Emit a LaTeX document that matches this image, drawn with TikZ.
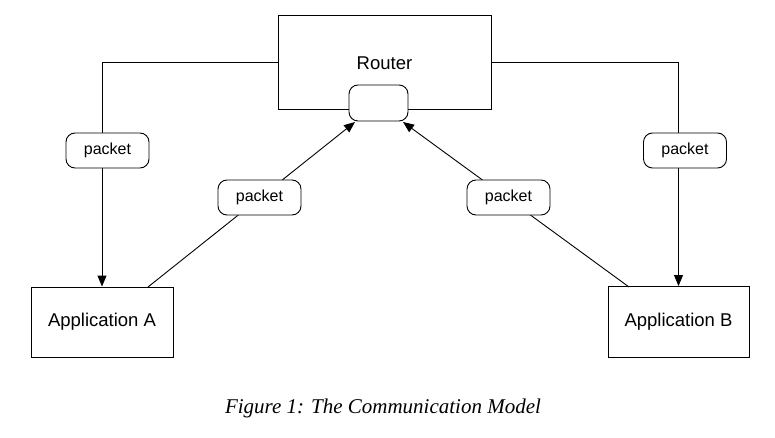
\documentclass[tikz,border=0pt]{standalone}
\usepackage{fontspec}
\setmainfont{Liberation Serif}
\setsansfont{Liberation Sans}
\usetikzlibrary{arrows.meta}
\begin{document}
\begin{tikzpicture}[x=1pt,y=-1pt,
  every node/.style={font=\sffamily},
  box/.style={draw, line width=0.9pt, fill=white, inner sep=0pt},
  tag/.style={draw, line width=0.9pt, fill=white, rounded corners=9pt, minimum width=83pt, minimum height=35pt, inner sep=0pt, font=\sffamily\fontsize{16}{19}\selectfont},
  big/.style={font=\sffamily\fontsize{18.5}{21}\selectfont},
  conn/.style={line width=0.9pt},
  tip/.style={-{Triangle[length=11pt,width=9pt]}}]
\useasboundingbox (0,0) rectangle (775,438);
% boxes
\node[box, minimum width=213pt, minimum height=94pt] (router) at (384.5,62) {};
\node[big] (routerlbl) at (384.5,63) {Router};
\node[box, rounded corners=9pt, minimum width=59pt, minimum height=36pt] (port) at (378.5,103) {};
\node[box, big, minimum width=142pt, minimum height=70pt] (appA) at (102,322) {Application A};
\node[box, big, minimum width=141pt, minimum height=71pt] (appB) at (678.5,322) {Application B};
% connector end points
\coordinate (aup) at (148,287);
\coordinate (bup) at (629,287);
\coordinate (pa) at (355,122);
\coordinate (pb) at (403,122);
% connectors
\draw[conn,tip] (router.west) -| (appA.north);
\draw[conn,tip] (router.east) -| (appB.north);
\draw[conn,tip] (aup) -- (pa);
\draw[conn,tip] (bup) -- (pb);
% labels
\node[tag] (t1) at (107.5,150.5) {packet};
\node[tag] (t2) at (259.5,197.5) {packet};
\node[tag] (t3) at (508.5,197.5) {packet};
\node[tag] (t4) at (685,150.5) {packet};
% caption
\node[font=\rmfamily\itshape\fontsize{21}{25}\selectfont] (cap) at (383,408) {Figure 1: The Communication Model};
\end{tikzpicture}
\end{document}
